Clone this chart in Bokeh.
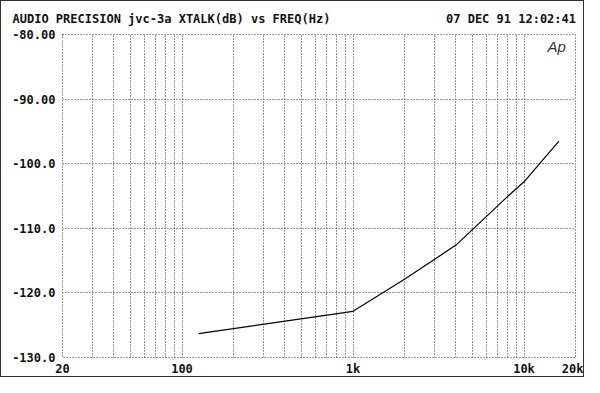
from bokeh.plotting import figure
from bokeh.models import Range1d, FixedTicker, Label
from bokeh.embed import file_html
from bokeh.resources import INLINE

# data
freq_hz = [125, 1000, 2000, 4000, 8000, 10000, 16000]
xtalk_db = [-126.3, -122.85, -117.9, -112.6, -105.1, -102.8, -96.5]

x_major = [20, 100, 1000, 10000, 20000]
x_minor = [30, 40, 50, 60, 70, 80, 90,
           200, 300, 400, 500, 600, 700, 800, 900,
           2000, 3000, 4000, 5000, 6000, 7000, 8000, 9000]
x_labels = {20: "20", 100: "100", 1000: "1k", 10000: "10k", 20000: "20k"}
y_ticks = [-130, -120, -110, -100, -90, -80]
y_labels = {-130: "-130.0", -120: "-120.0", -110: "-110.0", -100: "-100.0",
            -90: "-90.00", -80: "-80.00"}

title_left = "AUDIO PRECISION jvc-3a XTALK(dB) vs FREQ(Hz)"
title_right = "07 DEC 91 12:02:41"

FONT = "DejaVu Sans Mono"
GRID = "#333333"

p = figure(width=584, height=377, x_axis_type="log",
           x_range=Range1d(20, 20000), y_range=Range1d(-130, -80),
           output_backend="svg", toolbar_location=None,
           min_border_left=61, min_border_right=10,
           min_border_top=33, min_border_bottom=18)
p.styles = {"border": "1px solid #333333"}

p.line(freq_hz, xtalk_db, line_color="black", line_width=1.2)

p.title.text = title_left + "\u00a0" * 16 + title_right
p.title.text_font = FONT
p.title.text_font_style = "bold"
p.title.text_font_size = "12px"
p.title.text_color = "#111111"
p.title.align = "left"
p.title.offset = -50
p.title.standoff = 17

for ax in (p.xaxis[0], p.yaxis[0]):
    ax.axis_line_color = None
    ax.major_tick_line_color = None
    ax.minor_tick_line_color = None
    ax.major_tick_out = 0
    ax.major_tick_in = 0
    ax.minor_tick_out = 0
    ax.minor_tick_in = 0
    ax.major_label_text_font = FONT
    ax.major_label_text_font_style = "bold"
    ax.major_label_text_font_size = "12px"
    ax.major_label_text_color = "#111111"

p.xaxis.ticker = FixedTicker(ticks=x_major, minor_ticks=x_minor)
p.xaxis.major_label_overrides = x_labels
p.xaxis.major_label_standoff = 4
p.yaxis.ticker = FixedTicker(ticks=y_ticks)
p.yaxis.major_label_overrides = y_labels
p.yaxis.major_label_standoff = 7

p.xgrid.grid_line_color = GRID
p.xgrid.grid_line_dash = "1 2"
p.xgrid.minor_grid_line_color = GRID
p.xgrid.minor_grid_line_dash = "1 2"
p.ygrid.grid_line_color = GRID
p.ygrid.grid_line_dash = "1 2"
p.outline_line_color = GRID
p.outline_line_dash = "1 2"

p.add_layout(Label(x=20000, y=-80, x_offset=-28, y_offset=-12, text="Ap",
                   text_font="Liberation Sans", text_font_style="italic",
                   text_font_size="15px", text_baseline="middle", text_align="left",
                   text_color="#333333"))

open("out.html", "w").write(file_html(p, INLINE))
